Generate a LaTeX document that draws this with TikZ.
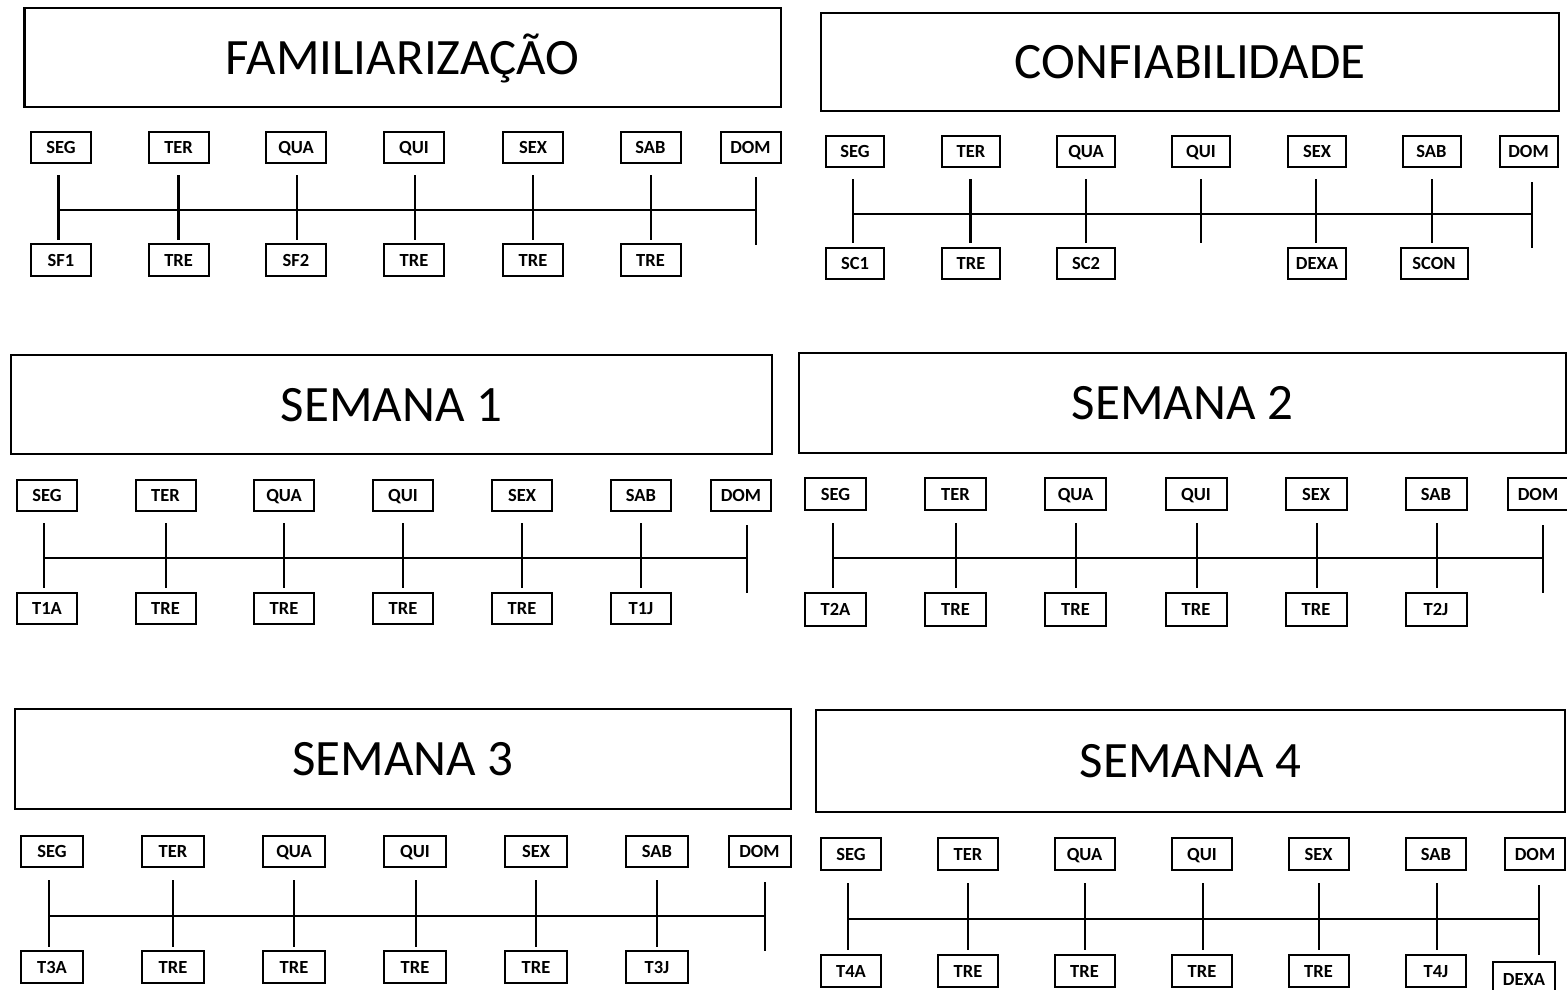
\documentclass[tikz,border=0pt]{standalone}
\usepackage{fontspec}
\setmainfont{Carlito}
\begin{document}
\begin{tikzpicture}[x=1pt,y=-1pt,
  titlebox/.style={draw=black,line width=2.6pt,inner sep=0pt,
    font=\fontsize{51}{60}\selectfont,text height=33pt,text depth=0pt},
  daybox/.style={draw=black,line width=2pt,inner sep=0pt,minimum width=60pt,
    font=\bfseries\fontsize{18.5}{22}\selectfont,text height=12.5pt,text depth=0pt},
  tick/.style={draw=black,line width=2.6pt},
  tline/.style={draw=black,line width=2.4pt}]
\useasboundingbox (0,0) rectangle (1567,989);
\fill[white] (0,0) rectangle (1567,989);

% ---------- Panel 1: FAMILIARIZACAO ----------
\node[titlebox,minimum width=756.5pt,minimum height=99pt] (p1t) at (402.75,57.5) {FAMILIARIZAÇÃO};
\foreach \i/\x/\t/\lab in {1/61/58.7/SEG,2/178.6/178.6/TER,3/296/297/QUA,4/414/415/QUI,5/533/533/SEX,6/650.5/651/SAB}{
  \node[daybox,minimum height=31pt] (p1d\i) at (\x,147.5) {\lab};
  \coordinate (p1a\i) at (\t,175);
  \coordinate (p1b\i) at (\t,240);
  \coordinate (p1m\i) at (\t,210);
  \draw[tick] (p1a\i) -- (p1b\i);
}
\node[daybox,minimum height=31pt] (p1d7) at (750.5,147.5) {DOM};
\coordinate (p1a7) at (756,177);
\coordinate (p1b7) at (756,245);
\coordinate (p1m7) at (756,210);
\draw[tick] (p1a7) -- (p1b7);
\draw[tline] (p1m1) -- (p1m7);
\foreach \i/\x/\lab in {1/61/SF1,2/178.6/TRE,3/296/SF2,4/414/TRE,5/533/TRE,6/650.5/TRE}{
  \node[daybox,minimum height=32pt] (p1e\i) at (\x,260) {\lab};
}

% ---------- Panel 2: CONFIABILIDADE ----------
\node[titlebox,minimum width=738pt,minimum height=98pt] (p2t) at (1190,62) {CONFIABILIDADE};
\foreach \i/\x/\t/\lab in {1/855/853/SEG,2/971/970.6/TER,3/1086/1086/QUA,4/1201/1201/QUI,5/1317/1316/SEX,6/1431.5/1432/SAB}{
  \node[daybox,minimum width=58pt,minimum height=31pt] (p2d\i) at (\x,151.5) {\lab};
  \coordinate (p2a\i) at (\t,179);
  \coordinate (p2b\i) at (\t,243);
  \coordinate (p2m\i) at (\t,214);
  \draw[tick] (p2a\i) -- (p2b\i);
}
\node[daybox,minimum width=58pt,minimum height=31pt] (p2d7) at (1528.5,151.5) {DOM};
\coordinate (p2a7) at (1532,182);
\coordinate (p2b7) at (1532,248);
\coordinate (p2m7) at (1532,214);
\draw[tick] (p2a7) -- (p2b7);
\draw[tline] (p2m1) -- (p2m7);
\foreach \i/\x/\lab in {1/855/SC1,2/971/TRE,3/1086/SC2,5/1317/DEXA}{
  \node[daybox,minimum width=58pt,minimum height=31pt] (p2e\i) at (\x,263.5) {\lab};
}
\node[daybox,minimum width=67pt,minimum height=31pt] (p2e6) at (1434,263.5) {SCON};

% ---------- Panel 3: SEMANA 1 ----------
\node[titlebox,minimum width=761pt,minimum height=99pt] (p3t) at (391.5,404.5) {SEMANA 1};
\foreach \i/\x/\t/\lab in {1/47/44/SEG,2/165.5/166/TER,3/284/284/QUA,4/403/403/QUI,5/522/522/SEX,6/641/641/SAB}{
  \node[daybox,minimum height=31pt] (p3d\i) at (\x,495.5) {\lab};
  \coordinate (p3a\i) at (\t,523);
  \coordinate (p3b\i) at (\t,588);
  \coordinate (p3m\i) at (\t,558);
  \draw[tick] (p3a\i) -- (p3b\i);
}
\node[daybox,minimum height=31pt] (p3d7) at (741,495.5) {DOM};
\coordinate (p3a7) at (747,525);
\coordinate (p3b7) at (747,593);
\coordinate (p3m7) at (747,558);
\draw[tick] (p3a7) -- (p3b7);
\draw[tline] (p3m1) -- (p3m7);
\foreach \i/\x/\lab in {1/47/T1A,2/165.5/TRE,3/284/TRE,4/403/TRE,5/522/TRE,6/641/T1J}{
  \node[daybox,minimum height=31pt] (p3e\i) at (\x,608.5) {\lab};
}

% ---------- Panel 4: SEMANA 2 ----------
\node[titlebox,minimum width=767pt,minimum height=100pt] (p4t) at (1182.5,403) {SEMANA 2};
\foreach \i/\x/\t/\lab in {1/835.5/833/SEG,2/955.5/956/TER,3/1075.5/1076/QUA,4/1196/1197/QUI,5/1316/1317/SEX,6/1436/1437/SAB}{
  \node[daybox,minimum width=61pt,minimum height=32pt] (p4d\i) at (\x,494) {\lab};
  \coordinate (p4a\i) at (\t,523);
  \coordinate (p4b\i) at (\t,588);
  \coordinate (p4m\i) at (\t,558);
  \draw[tick] (p4a\i) -- (p4b\i);
}
\node[daybox,minimum width=61pt,minimum height=32pt] (p4d7) at (1538,494) {DOM};
\coordinate (p4a7) at (1543,525);
\coordinate (p4b7) at (1543,593);
\coordinate (p4m7) at (1543,558);
\draw[tick] (p4a7) -- (p4b7);
\draw[tline] (p4m1) -- (p4m7);
\foreach \i/\x/\lab in {1/835.5/T2A,2/955.5/TRE,3/1075.5/TRE,4/1196/TRE,5/1316/TRE,6/1436/T2J}{
  \node[daybox,minimum width=61pt,minimum height=33pt] (p4e\i) at (\x,609.5) {\lab};
}

% ---------- Panel 5: SEMANA 3 ----------
\node[titlebox,minimum width=776pt,minimum height=100pt] (p5t) at (403,759) {SEMANA 3};
\foreach \i/\x/\t/\lab in {1/52/49/SEG,2/173/173/TER,3/294/294/QUA,4/415/416/QUI,5/536/536/SEX,6/657/657/SAB}{
  \node[daybox,minimum width=62pt,minimum height=31pt] (p5d\i) at (\x,851.5) {\lab};
  \coordinate (p5a\i) at (\t,880);
  \coordinate (p5b\i) at (\t,947);
  \coordinate (p5m\i) at (\t,916);
  \draw[tick] (p5a\i) -- (p5b\i);
}
\node[daybox,minimum width=62pt,minimum height=31pt] (p5d7) at (759.5,851.5) {DOM};
\coordinate (p5a7) at (765,882);
\coordinate (p5b7) at (765,951);
\coordinate (p5m7) at (765,916);
\draw[tick] (p5a7) -- (p5b7);
\draw[tline] (p5m1) -- (p5m7);
\foreach \i/\x/\lab in {1/52/T3A,2/173/TRE,3/294/TRE,4/415/TRE,5/536/TRE,6/657/T3J}{
  \node[daybox,minimum width=62pt,minimum height=32pt] (p5e\i) at (\x,967) {\lab};
}

% ---------- Panel 6: SEMANA 4 ----------
\node[titlebox,minimum width=749pt,minimum height=102pt] (p6t) at (1190.5,761) {SEMANA 4};
\foreach \i/\x/\t/\lab in {1/851/848/SEG,2/968/968/TER,3/1084.5/1085/QUA,4/1202/1203/QUI,5/1318.5/1319/SEX,6/1436/1437/SAB}{
  \node[daybox,minimum height=32pt] (p6d\i) at (\x,854) {\lab};
  \coordinate (p6a\i) at (\t,883);
  \coordinate (p6b\i) at (\t,950);
  \coordinate (p6m\i) at (\t,919);
  \draw[tick] (p6a\i) -- (p6b\i);
}
\node[daybox,minimum height=32pt] (p6d7) at (1535,854) {DOM};
\coordinate (p6a7) at (1539,885);
\coordinate (p6b7) at (1539,955);
\coordinate (p6m7) at (1539,919);
\draw[tick] (p6a7) -- (p6b7);
\draw[tline] (p6m1) -- (p6m7);
\foreach \i/\x/\lab in {1/851/T4A,2/968/TRE,3/1084.5/TRE,4/1202/TRE,5/1318.5/TRE,6/1436/T4J}{
  \node[daybox,minimum height=32pt] (p6e\i) at (\x,971) {\lab};
}
\node[daybox,minimum width=62pt,minimum height=34pt,text height=12.5pt] (p6e7) at (1524,979) {DEXA};
\end{tikzpicture}
\end{document}
